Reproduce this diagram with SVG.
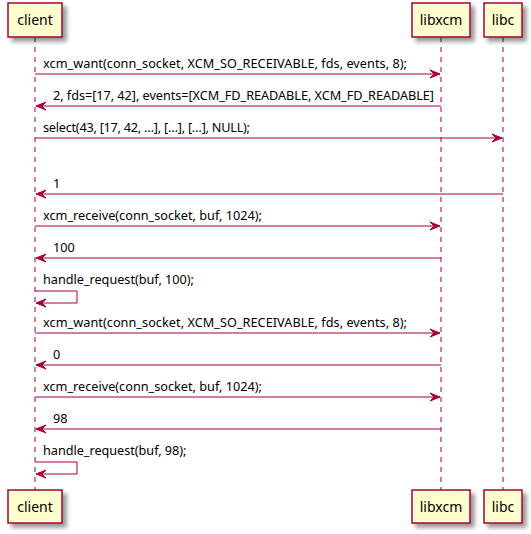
<svg xmlns="http://www.w3.org/2000/svg" width="531" height="534" viewBox="0 0 531 534">
<style>
.life{stroke:#A80036;stroke-width:1;stroke-dasharray:5,5;fill:none}
.box{fill:#FEFECE;stroke:#A80036;stroke-width:1.5}
.pt{font-family:"Noto Sans","Open Sans",sans-serif;font-size:14px;fill:#000;text-anchor:middle}
.msg{stroke:#A80036;stroke-width:1;fill:none}
.head{fill:#A80036;stroke:#A80036;stroke-width:1}
.mt{font-family:"Noto Sans","Open Sans",sans-serif;font-size:12.7px;fill:#000}
</style>
<defs>
<filter id="sh" x="-20%" y="-20%" width="160%" height="160%">
<feGaussianBlur in="SourceAlpha" stdDeviation="2" result="b"/>
<feOffset in="b" dx="4" dy="4" result="o"/>
<feComponentTransfer in="o" result="o2"><feFuncA type="linear" slope="0.4"/></feComponentTransfer>
<feMerge><feMergeNode in="o2"/><feMergeNode in="SourceGraphic"/></feMerge>
</filter>
</defs>
<g id="lifelines">
<line class="life" x1="35" y1="37" x2="35" y2="491"/>
<line class="life" x1="441" y1="37" x2="441" y2="491"/>
<line class="life" x1="503" y1="37" x2="503" y2="491"/>
</g>
<g id="client">
<rect class="box" filter="url(#sh)" x="8" y="3" width="54" height="34"/>
<text class="pt" x="35" y="25">client</text>
<rect class="box" filter="url(#sh)" x="8" y="490" width="54" height="33"/>
<text class="pt" x="35" y="512">client</text>
</g>
<g id="libxcm">
<rect class="box" filter="url(#sh)" x="412" y="3" width="58" height="34"/>
<text class="pt" x="441" y="25">libxcm</text>
<rect class="box" filter="url(#sh)" x="412" y="490" width="58" height="33"/>
<text class="pt" x="441" y="512">libxcm</text>
</g>
<g id="libc">
<rect class="box" filter="url(#sh)" x="484" y="3" width="38" height="34"/>
<text class="pt" x="503" y="25">libc</text>
<rect class="box" filter="url(#sh)" x="484" y="490" width="38" height="33"/>
<text class="pt" x="503" y="512">libc</text>
</g>
<g id="connectors">
<line class="msg" x1="35" y1="74" x2="440" y2="74"/>
<polygon class="head" points="440,74 430,70 434,74 430,78"/>
<text class="mt" x="43" y="68" textLength="364">xcm_want(conn_socket, XCM_SO_RECEIVABLE, fds, events, 8);</text>

<line class="msg" x1="36" y1="106" x2="441" y2="106"/>
<polygon class="head" points="36,106 46,102 42,106 46,110"/>
<text class="mt" x="53" y="100" textLength="381">2, fds=[17, 42], events=[XCM_FD_READABLE, XCM_FD_READABLE]</text>

<line class="msg" x1="35" y1="138" x2="502" y2="138"/>
<polygon class="head" points="502,138 492,134 496,138 492,142"/>
<text class="mt" x="43" y="132" textLength="207">select(43, [17, 42, …], […], […], NULL);</text>

<line class="msg" x1="36" y1="194" x2="503" y2="194"/>
<polygon class="head" points="36,194 46,190 42,194 46,198"/>
<text class="mt" x="53" y="188">1</text>

<line class="msg" x1="35" y1="226" x2="440" y2="226"/>
<polygon class="head" points="440,226 430,222 434,226 430,230"/>
<text class="mt" x="43" y="220" textLength="219">xcm_receive(conn_socket, buf, 1024);</text>

<line class="msg" x1="36" y1="258" x2="441" y2="258"/>
<polygon class="head" points="36,258 46,254 42,258 46,262"/>
<text class="mt" x="53" y="252">100</text>

<polyline class="msg" points="35,291 77,291 77,303 36,303"/>
<polygon class="head" points="36,303 46,299 42,303 46,307"/>
<text class="mt" x="43" y="284" textLength="151">handle_request(buf, 100);</text>

<line class="msg" x1="35" y1="333" x2="440" y2="333"/>
<polygon class="head" points="440,333 430,329 434,333 430,337"/>
<text class="mt" x="43" y="327" textLength="364">xcm_want(conn_socket, XCM_SO_RECEIVABLE, fds, events, 8);</text>

<line class="msg" x1="36" y1="365" x2="441" y2="365"/>
<polygon class="head" points="36,365 46,361 42,365 46,369"/>
<text class="mt" x="53" y="359">0</text>

<line class="msg" x1="35" y1="397" x2="440" y2="397"/>
<polygon class="head" points="440,397 430,393 434,397 430,401"/>
<text class="mt" x="43" y="391" textLength="219">xcm_receive(conn_socket, buf, 1024);</text>

<line class="msg" x1="36" y1="429" x2="441" y2="429"/>
<polygon class="head" points="36,429 46,425 42,429 46,433"/>
<text class="mt" x="53" y="423">98</text>

<polyline class="msg" points="35,462 77,462 77,474 36,474"/>
<polygon class="head" points="36,474 46,470 42,474 46,478"/>
<text class="mt" x="43" y="455" textLength="143.5">handle_request(buf, 98);</text>
</g>
</svg>
